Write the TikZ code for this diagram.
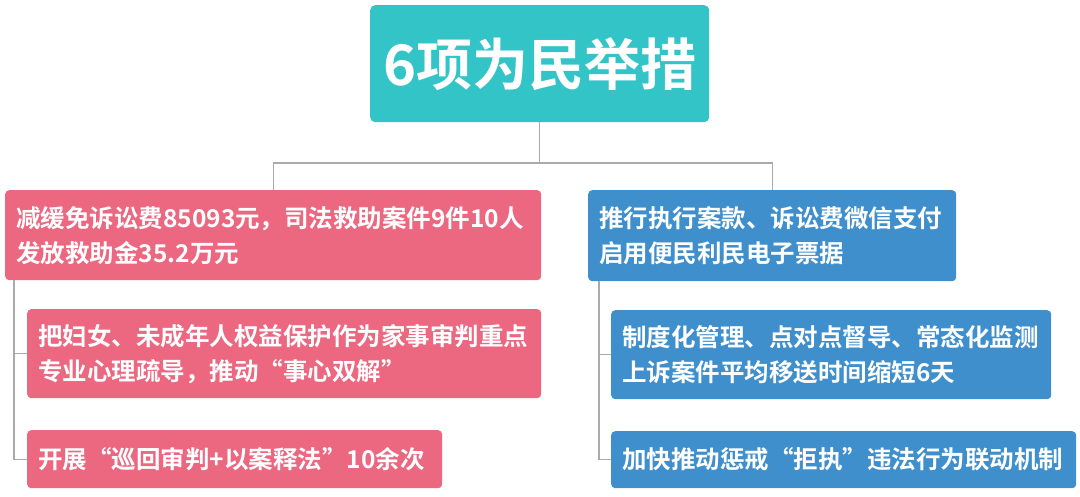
\documentclass[tikz,border=0pt]{standalone}
\usepackage{fontspec}
\newfontfamily\cjk{Noto Sans CJK SC}[BoldFont={Noto Sans CJK SC Bold}]
\usetikzlibrary{positioning, calc}
\definecolor{titleteal}{RGB}{51,196,199}
\definecolor{leftpink}{RGB}{235,104,128}
\definecolor{rightblue}{RGB}{63,143,205}
\definecolor{linegray}{RGB}{170,170,170}
\tikzset{
    titlebox/.style={rectangle, rounded corners=5pt, fill=titleteal, text=white, anchor=north west, inner sep=0pt, font=\cjk\bfseries\fontsize{56}{60}\selectfont, align=center},
    itembox/.style={rectangle, rounded corners=4pt, text=white, anchor=north west, inner xsep=11pt, inner ysep=0pt, align=left, font=\cjk\bfseries\fontsize{24.5}{35}\selectfont},
    pinkbox/.style={itembox, fill=leftpink},
    bluebox/.style={itembox, fill=rightblue},
    link/.style={draw=linegray, line width=1.4pt},
}
\begin{document}
\begin{tikzpicture}[x=1pt, y=-1pt]
\useasboundingbox (0,0) rectangle (1080,497);

% Title
\node[titlebox, minimum width=339pt, minimum height=117pt] (title) at (370,5) {6项为民举措};

% Left branch
\node[pinkbox, text width=514pt, minimum height=90pt] (lb1) at (5,190) {减缓免诉讼费85093元，司法救助案件9件10人\\发放救助金35.2万元};
\node[pinkbox, text width=492pt, minimum height=89pt] (lb2) at (27,309) {把妇女、未成年人权益保护作为家事审判重点\\专业心理疏导，推动“事心双解”};
\node[pinkbox, text width=393pt, minimum height=58pt] (lb3) at (27,430) {开展“巡回审判+以案释法”10余次};

% Right branch
\node[bluebox, text width=346pt, minimum height=91pt] (rb1) at (588,190) {推行执行案款、诉讼费微信支付\\启用便民利民电子票据};
\node[bluebox, text width=418pt, minimum height=89pt] (rb2) at (611,310) {制度化管理、点对点督导、常态化监测\\上诉案件平均移送时间缩短6天};
\node[bluebox, text width=443pt, minimum height=57pt] (rb3) at (611,431) {加快推动惩戒“拒执”违法行为联动机制};

% Connectors from title
\coordinate (split) at (title.south |- 0,163);
\draw[link] (title.south) -- (split);
\draw[link] (split) -| (lb1.north);
\draw[link] (split) -| (rb1.north);

% Left children
\coordinate (lstem) at ([xshift=9pt]lb1.south west);
\draw[link] (lstem) |- (lb2.west);
\draw[link] (lstem) |- (lb3.west);

% Right children
\coordinate (rstem) at ([xshift=11pt]rb1.south west);
\draw[link] (rstem) |- (rb2.west);
\draw[link] (rstem) |- (rb3.west);

\end{tikzpicture}
\end{document}
